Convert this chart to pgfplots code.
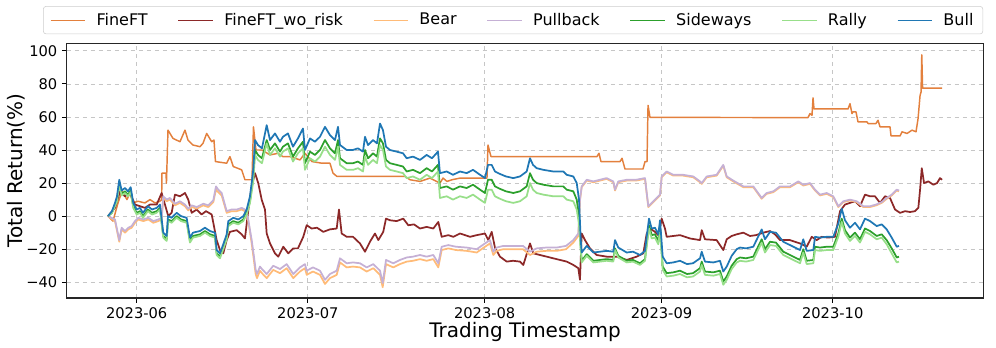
\documentclass[border=0pt]{standalone}
\usepackage{fontspec}
\setmainfont{DejaVu Sans}
\usepackage{pgfplots}
\pgfplotsset{compat=1.18}

\definecolor{cfineft}{HTML}{E3803D}
\definecolor{cworisk}{HTML}{8C2828}
\definecolor{cbear}{HTML}{FFBB78}
\definecolor{cpull}{HTML}{C5B0D5}
\definecolor{cside}{HTML}{2CA02C}
\definecolor{crally}{HTML}{98DF8A}
\definecolor{cbull}{HTML}{1F77B4}

\begin{document}
\begin{tikzpicture}
\useasboundingbox (-50pt,-37.5pt) rectangle (697pt,223.5pt);
\begin{axis}[
  scale only axis,
  width=687.5pt, height=191pt,
  xmin=-12.27, xmax=148.4,
  ymin=-49.5, ymax=104.5,
  xtick={0,30,61,92,122},
  xticklabels={2023-06,2023-07,2023-08,2023-09,2023-10},
  ytick={-40,-20,0,20,40,60,80,100},
  yticklabels={−40,−20,0,20,40,60,80,100},
  ticklabel style={font=\fontsize{11}{13}\selectfont},
  tick align=outside, tick pos=left,
  major tick length=3.5pt,
  every tick/.style={black, line width=0.6pt},
  axis line style={line width=0.8pt, black!85},
  grid=major,
  major grid style={dashed, gray!45, line width=0.5pt},
  xlabel={Trading Timestamp},
  ylabel={Total Return(\%)},
  xlabel style={font=\fontsize{15}{18}\selectfont, at={(rel axis cs:0.5,0)}, anchor=north, yshift=-18pt, inner sep=0pt},
  ylabel style={font=\fontsize{15}{18}\selectfont, at={(rel axis cs:0,0.5)}, anchor=south, yshift=31pt, inner sep=0pt},
  legend columns=7,
  legend style={at={(0.487,1.146)}, anchor=north, draw=black!20, rounded corners=2pt,
    font=\fontsize{12}{14}\selectfont, inner xsep=5pt, inner ysep=3pt,
    /tikz/every even column/.append style={column sep=20.5pt}},
  legend image code/.code={\draw[#1, line width=0.9pt] (0pt,0pt) -- (26pt,0pt);},
  every axis plot/.append style={line width=1.3pt, line join=round},
]
% FineFT
\addplot[cfineft, line width=1.1pt] coordinates {
(-5.03,0) (-4.15,-3) (-3.27,8) (-2.57,15) (-1.70,10) (-1.17,14) (-0.65,8) (0.23,9)
(1.45,8) (2.33,10) (3.21,8) (4.08,9) (4.38,10) (4.43,26) (5.14,26) (5.22,20) (5.49,52)
(6.36,47) (7.59,45) (8.47,52) (8.99,46) (9.87,43) (11.10,42) (11.62,44) (12.27,50)
(13.15,45) (13.55,46) (13.81,33) (15.78,32) (16.35,36) (16.93,30) (18.40,28) (18.98,22)
(20.21,22) (20.47,54) (20.91,40) (21.96,40) (23.37,37) (24.77,38) (25.64,36) (26.87,36)
(28.63,34) (29.50,38) (30.73,33) (32.48,32) (33.88,32) (34.41,26) (35.11,24) (39.14,24)
(42.65,24) (47.03,24) (47.91,22) (49.66,21) (51.41,23) (53.16,20) (53.70,23) (54.39,21)
(55.27,22) (56.67,23) (61.40,23) (61.58,43) (62.10,36) (80.68,36) (81.03,38) (81.38,33)
(84.72,33) (85.07,35) (85.59,28.5) (88.75,28.5) (89.10,33) (89.45,33) (89.63,67)
(89.97,59.7) (117.67,59.6) (118.02,62) (118.37,61) (118.55,71.5) (118.72,64.8)
(124.68,64.8) (125.03,68) (125.38,62) (125.56,63) (126.08,63) (126.43,57) (128.01,57)
(128.19,56) (129.59,56) (129.94,58) (130.29,54) (132.04,54) (132.22,48.5) (133.80,48.5)
(134.15,51) (135.03,50) (135.90,52) (136.60,51) (136.96,59) (137.31,73) (137.48,75)
(137.61,97.5) (137.75,77.4) (141.17,77.4)
};
\addlegendentry{\hspace{6pt}FineFT}
% FineFT_wo_risk
\addplot[cworisk] coordinates {
(-5.03,0) (-3.80,5) (-2.92,15) (-2.05,12) (-1.17,14) (-0.30,7) (1.45,5) (2.33,7) (3.51,7)
(4.38,14) (4.96,7) (5.54,0) (6.13,2) (6.71,13) (7.59,12) (8.47,14) (9.04,10) (9.64,2)
(10.52,4) (11.39,1) (12.15,3) (13.15,1) (14.02,-14.5) (14.60,-20.5) (15.18,-22.5)
(15.78,-14.5) (16.35,-9.5) (17.53,-8.5) (18.40,-11) (18.98,-13.5) (19.56,3.5) (20.16,18)
(20.74,26) (21.31,20) (21.91,10) (22.49,4) (22.79,-10.5) (23.37,-16.5) (24.24,-22.5)
(24.82,-24.5) (25.70,-18.5) (26.57,-22.5) (27.45,-19.5) (28.27,-19.5) (29.20,-12.5)
(29.80,-5.5) (30.67,-7.5) (31.60,-7) (32.71,-9.5) (33.88,-8) (35.06,-7.5) (35.46,4)
(35.93,-10.5) (36.81,-12.5) (37.92,-12.5) (39.14,-16.5) (40.02,-21.5) (40.89,-15.5)
(41.77,-10.5) (42.35,-14.5) (43.22,-9.5) (43.70,-1.5) (44.40,-2.5) (45.57,-3) (46.73,-1.5)
(47.61,-5.5) (48.61,-5) (49.66,-7.5) (50.83,-6.5) (51.99,-7.5) (52.87,-3.5) (53.46,-12.5)
(54.62,-11.5) (55.50,-12.5) (56.67,-10.5) (58.43,-12.5) (59.60,-11.5) (61.05,-10.5)
(61.63,-14.5) (62.23,-9.5) (62.80,-19) (63.68,-24.5) (64.86,-27.5) (65.96,-27) (67.19,-27.5)
(67.77,-29.5) (68.94,-16.5) (69.52,-22.5) (70.69,-23.5) (71.87,-24.5) (73.02,-25.5)
(74.20,-26.5) (75.37,-27.5) (76.53,-29.5) (77.41,-31.5) (77.70,-38.5) (78.00,-10.5)
(78.58,-14.5) (79.46,-19.5) (80.63,-23.5) (82.38,-24.5) (84.14,-24.5) (85.89,-26.5)
(87.64,-24.5) (88.80,-22.5) (89.40,-10.5) (89.97,-7.5) (90.85,-9.5) (91.43,-11.5)
(92.02,-1.5) (92.60,-7.5) (92.90,-12.5) (95.23,-11.5) (96.98,-13.5) (98.74,-14.5)
(99.04,-8.5) (99.61,-14) (101.66,-14.5) (102.82,-20.5) (103.42,-14) (104.29,-12)
(105.17,-11) (106.33,-10) (107.50,-12) (108.55,-11.5) (109.84,-10) (111.01,-9) (111.89,-11)
(112.76,-14.5) (114.51,-14.5) (116.27,-16.5) (117.44,-18.5) (118.32,-12.5) (119.19,-14.5)
(120.07,-12.5) (121.17,-13) (122.40,-12.5) (123.28,3) (124.15,7) (125.03,8) (125.91,9)
(126.78,6) (127.66,13) (128.54,12) (129.41,12) (130.29,8) (131.17,12) (132.04,11)
(132.92,4) (133.80,2) (134.68,3) (135.55,2.5) (136.43,3) (137.01,5) (137.31,16)
(137.61,29) (138.01,20) (138.76,21) (139.64,19) (140.29,20) (140.81,23) (141.17,22)
};
\addlegendentry{\hspace{6pt}FineFT\_wo\_risk}
% Bear
\addplot[cbear] coordinates {
(-5.03,0) (-3.80,-3) (-3.05,-15.5) (-2.63,-8) (-2.05,-10) (-1.47,-8) (-0.88,-7) (-0.30,-4)
(0.28,-2) (1.16,-3) (2.03,-2) (2.91,-4) (3.79,-3) (4.38,-2) (4.66,11) (5.26,9) (5.84,10)
(6.71,6.5) (7.59,8) (8.47,6) (9.04,3.5) (9.64,5.5) (10.52,4.5) (11.67,6.5) (12.55,5.5)
(13.43,8.5) (13.90,16) (14.30,14.5) (14.90,12.5) (15.78,2) (16.65,3) (17.53,3) (18.40,4)
(18.98,3) (19.56,-3) (20.16,-16.5) (20.56,-27) (20.86,-35) (21.09,-37.5) (21.61,-33)
(21.96,-34.5) (22.79,-37.5) (23.94,-32.5) (25.12,-34.5) (26.29,-31.5) (27.45,-37.5)
(28.62,-33.5) (29.50,-31.5) (29.80,-35.5) (30.90,-33.5) (32.13,-35.5) (33.01,-41)
(33.88,-37.5) (35.06,-35.5) (35.64,-28) (36.81,-31) (37.92,-30.5) (39.14,-31) (40.32,-33.5)
(41.47,-31.5) (42.65,-35.5) (43.12,-43) (43.70,-29) (44.98,-31) (46.15,-29) (47.33,-27.5)
(48.43,-27) (49.66,-26) (50.83,-27) (51.99,-26) (52.87,-31) (53.46,-20.5) (54.62,-19.5)
(55.97,-20.5) (57.84,-21) (59.60,-22) (61.05,-18.5) (61.93,-16.5) (62.51,-23.5) (63.10,-21)
(64.26,-20) (66.01,-20) (67.71,-20) (68.94,-23.5) (70.11,-21.5) (71.74,-21) (73.62,-21)
(75.25,-20) (76.53,-16) (77.41,-12) (77.70,9.5) (78.00,17.5) (78.88,21.5) (80.04,20.5)
(81.21,21.5) (82.38,22.5) (83.54,20.5) (83.84,15.5) (84.42,20.5) (85.89,21.5) (87.52,21.5)
(89.10,22.5) (89.40,13.5) (89.68,5.5) (90.27,7.5) (91.15,10.5) (91.73,12.5) (92.02,23.5)
(92.90,26.5) (94.06,24.5) (95.76,24.5) (97.56,23.5) (98.74,20.5) (99.04,19.5) (99.91,23.5)
(101.66,24.5) (102.82,30.5) (103.42,23.5) (104.57,21) (106.33,17.5) (108.08,17.5)
(109.55,10.5) (110.43,13.5) (111.59,14.5) (112.76,17.5) (114.51,17.5) (115.97,20.5)
(116.84,18.5) (118.02,19.5) (118.90,15.5) (119.77,12.5) (120.95,13.5) (122.10,11.5)
(122.98,5.5) (123.86,8.5) (125.03,9.5) (126.20,8.5) (127.36,5.5) (128.54,5.5) (129.59,6.5)
(130.59,8) (131.46,10.5) (132.34,12.5) (133.22,15.5) (133.62,15)
};
\addlegendentry{\hspace{6pt}Bear}
% Pullback
\addplot[cpull] coordinates {
(-5.03,0) (-3.80,-2) (-3.05,-14.5) (-2.63,-7) (-2.05,-9) (-1.47,-7) (-0.88,-6) (-0.30,-3)
(0.28,-1) (1.16,-2) (2.03,-1) (2.91,-3) (3.79,-2) (4.38,-1) (4.66,12) (5.26,10) (5.84,11)
(6.71,7.5) (7.59,9) (8.47,7) (9.04,4.5) (9.64,6.5) (10.52,5.5) (11.67,7.5) (12.55,6.5)
(13.43,9.5) (13.90,18) (14.30,16) (14.90,14) (15.78,3) (16.65,4) (17.53,4) (18.40,5)
(18.98,4) (19.56,-2) (20.16,-14.5) (20.56,-24.5) (20.86,-32.5) (21.09,-35) (21.61,-30.5)
(21.96,-32) (22.79,-35) (23.94,-30) (25.12,-32) (26.29,-29) (27.45,-35) (28.62,-31)
(29.50,-29) (29.80,-33) (30.90,-31) (32.13,-33) (33.01,-38.5) (33.88,-35) (35.06,-33)
(35.64,-25.5) (36.81,-28.5) (37.92,-28) (39.14,-28.5) (40.32,-31) (41.47,-29) (42.65,-33)
(43.12,-40.5) (43.70,-26.5) (44.98,-28.5) (46.15,-26.5) (47.33,-25) (48.43,-24.5)
(49.66,-23.5) (50.83,-24.5) (51.99,-23.5) (52.87,-28.5) (53.46,-18.5) (54.62,-17.5)
(55.97,-18.5) (57.84,-19) (59.60,-20) (61.05,-16.5) (61.93,-14.5) (62.51,-21.5) (63.10,-19)
(64.26,-18) (66.01,-18) (67.71,-18) (68.94,-21.5) (70.11,-19.5) (71.74,-19) (73.62,-19)
(75.25,-18) (76.53,-14.5) (77.41,-10.5) (77.70,10) (78.00,18) (78.88,22) (80.04,21)
(81.21,22) (82.38,23) (83.54,21) (83.84,16) (84.42,21) (85.89,22) (87.52,22) (89.10,23)
(89.40,14) (89.68,6) (90.27,8) (91.15,11) (91.73,13) (92.02,24) (92.90,27) (94.06,25)
(95.76,25) (97.56,24) (98.74,21) (99.04,20) (99.91,24) (101.66,25) (102.82,31) (103.42,24)
(104.57,21.5) (106.33,18) (108.08,18) (109.55,11) (110.43,14) (111.59,15) (112.76,18)
(114.51,18) (115.97,21) (116.84,19) (118.02,20) (118.90,16) (119.77,13) (120.95,14)
(122.10,12) (122.98,6) (123.86,9) (125.03,10) (126.20,9) (127.36,6) (128.54,6) (129.59,7)
(130.59,8.5) (131.46,11) (132.34,13) (133.22,16) (133.62,15.5)
};
\addlegendentry{\hspace{6pt}Pullback}
% Sideways
\addplot[cside] coordinates {
(-5.03,0) (-4.33,2) (-3.80,7) (-3.45,10) (-3.05,20) (-2.63,13.5) (-2.05,15) (-1.52,13)
(-1.05,15.5) (-0.60,6) (0,2) (0.58,3) (1.10,0) (1.98,4) (2.68,2) (3.51,3) (4.08,5)
(4.66,-12) (5.26,-14) (5.49,-2) (6.13,-3) (7.01,0) (7.77,-2) (8.76,-3) (9.34,-15)
(9.87,-12) (11.10,-11) (11.97,-9) (12.85,-11) (13.73,-12) (14.02,-22.5) (14.60,-24.5)
(15.18,-19) (15.78,-13) (16.06,-5) (16.93,-3) (17.81,-4) (18.69,-2) (19.28,2) (19.86,9)
(20.44,24) (20.74,40) (21.26,37) (21.96,35) (22.79,46) (23.37,40) (24.24,44) (25.12,39)
(25.64,42) (26.52,44) (27.40,36) (28.27,41) (29.15,45) (29.50,32) (30.38,39) (31.25,37)
(32.13,40) (33.01,46) (33.88,41) (34.76,38) (35.29,46) (35.64,35) (36.81,32) (37.92,32)
(38.79,33) (39.67,31) (40.02,40) (40.55,35) (41.42,38) (42.12,36) (42.65,47) (43.17,44)
(43.70,34) (44.40,32) (45.57,31) (46.68,30) (47.33,27) (48.43,28) (49.66,26) (50.83,29)
(51.76,27) (52.81,31) (53.16,17) (54.34,18) (55.44,16) (56.67,18) (57.84,17) (58.95,19)
(60.18,16) (61.05,14) (61.58,22) (62.23,22) (62.80,18) (63.68,16.5) (64.73,15) (66.01,14)
(67.19,15) (68.36,18) (68.94,26) (69.47,22) (70.11,20) (71.27,19) (73.02,18) (74.78,18)
(75.37,16) (76.53,15) (77.13,10) (77.53,0) (77.83,-19) (78.00,-27) (78.88,-23) (80.04,-27)
(81.21,-26.5) (82.38,-26) (83.54,-26.5) (83.84,-19.5) (84.42,-24) (85.89,-27) (86.99,-26.5)
(88.22,-28.5) (89.10,-26) (89.40,-16.3) (89.80,-5.5) (90.27,-11.5) (90.85,-11) (91.43,-15)
(91.73,-6.5) (92.20,-30.5) (92.90,-34.5) (94.05,-34) (95.23,-33) (96.46,-35) (97.51,-34.5)
(98.74,-31.5) (99.04,-27.5) (99.61,-33.5) (101.07,-34) (102.24,-33) (102.82,-39.5)
(103.42,-36.5) (104.29,-30) (105.17,-26) (105.75,-25) (106.80,-25.5) (108.08,-24.5)
(109.55,-14) (110.13,-20) (111.01,-15.5) (112.06,-16) (113.34,-21.5) (115.09,-24.5)
(116.27,-26.5) (116.84,-20) (117.44,-27) (118.60,-26.5) (118.90,-18.5) (119.77,-19)
(120.95,-18.5) (122.10,-18.5) (122.98,-10.5) (123.58,-1.5) (124.15,-8.5) (125.03,-13)
(125.91,-10) (126.78,-14) (127.66,-7.5) (128.54,-9) (129.71,-12) (130.59,-11) (131.46,-14.5)
(132.34,-19.5) (133.22,-25) (133.62,-24.5)
};
\addlegendentry{\hspace{6pt}Sideways}
% Rally
\addplot[crally] coordinates {
(-5.03,0) (-4.33,2) (-3.80,6) (-3.45,9) (-3.05,19) (-2.63,12.5) (-2.05,14) (-1.52,12)
(-1.05,14.5) (-0.60,5) (0,1) (0.58,2) (1.10,-1) (1.98,3) (2.68,1) (3.51,2) (4.08,4)
(4.66,-13) (5.26,-15) (5.49,-3) (6.13,-4) (7.01,-1) (7.77,-3) (8.76,-4) (9.34,-16)
(9.87,-13) (11.10,-12) (11.97,-10) (12.85,-12) (13.73,-13) (14.02,-23.5) (14.60,-25.5)
(15.18,-20) (15.78,-14) (16.06,-6) (16.93,-4) (17.81,-5) (18.69,-3) (19.28,1) (19.86,8)
(20.44,21) (20.74,37) (21.26,34) (21.96,32) (22.79,44) (23.37,37) (24.24,41) (25.12,36)
(25.64,39) (26.52,41) (27.40,33) (28.27,38) (29.15,41) (29.50,28) (30.38,35) (31.25,33)
(32.13,36) (33.01,42) (33.88,37) (34.76,34) (35.29,42) (35.64,31) (36.81,28) (37.92,28)
(38.79,29) (39.67,27) (40.02,36) (40.55,31) (41.42,34) (42.12,32) (42.65,43) (43.17,40)
(43.70,30) (44.40,28) (45.57,27) (46.68,26) (47.33,23) (48.43,24) (49.66,22) (50.83,25)
(51.76,23) (52.81,27) (53.16,11) (54.34,12) (55.44,10) (56.67,12) (57.84,11) (58.95,13)
(60.18,10) (61.05,8) (61.58,16) (62.23,16) (62.80,12) (63.68,10.5) (64.73,9) (66.01,8)
(67.19,9) (68.36,12) (68.94,20) (69.47,16) (70.11,14) (71.27,13) (73.02,12) (74.78,12)
(75.37,10) (76.53,9) (77.13,4) (77.53,-5) (77.83,-20) (78.00,-28) (78.88,-24) (80.04,-28)
(81.21,-27.5) (82.38,-27) (83.54,-27.5) (83.84,-20.5) (84.42,-25) (85.89,-28) (86.99,-27.5)
(88.22,-29.5) (89.10,-27) (89.40,-18.3) (89.80,-7.5) (90.27,-13.5) (90.85,-13) (91.43,-17)
(91.73,-8.5) (92.20,-32.5) (92.90,-36.5) (94.05,-36) (95.23,-35) (96.46,-37) (97.51,-36.5)
(98.74,-33.5) (99.04,-29.5) (99.61,-35.5) (101.07,-36) (102.24,-35) (102.82,-41.5)
(103.42,-38.5) (104.29,-32) (105.17,-28) (105.75,-27) (106.80,-27.5) (108.08,-26.5)
(109.55,-16) (110.13,-22) (111.01,-17.5) (112.06,-18) (113.34,-23.5) (115.09,-26.5)
(116.27,-28.5) (116.84,-22) (117.44,-29) (118.60,-28.5) (118.90,-20.5) (119.77,-21)
(120.95,-20.5) (122.10,-20.5) (122.98,-12.5) (123.58,-3.5) (124.15,-10.5) (125.03,-15)
(125.91,-12) (126.78,-16) (127.66,-9.5) (128.54,-11) (129.71,-14) (130.59,-13) (131.46,-17)
(132.34,-22.5) (133.22,-28) (133.62,-27.5)
};
\addlegendentry{\hspace{6pt}Rally}
% Bull
\addplot[cbull] coordinates {
(-5.03,0) (-4.33,3) (-3.80,8) (-3.45,12) (-3.05,22) (-2.63,15.5) (-2.05,17) (-1.52,15)
(-1.05,17.5) (-0.60,8) (0,4) (0.58,5) (1.10,2) (1.98,6) (2.68,4) (3.51,5) (4.08,7)
(4.66,-10) (5.26,-12) (5.49,0) (6.13,-1) (7.01,2) (7.77,0) (8.76,-1) (9.34,-13) (9.87,-10)
(11.10,-9) (11.97,-7) (12.85,-9) (13.73,-10) (14.02,-20.5) (14.60,-22.5) (15.18,-17)
(15.78,-11) (16.06,-3) (16.93,-1) (17.81,-2) (18.69,0) (19.28,4) (19.86,12) (20.44,28)
(20.74,46) (21.26,43) (21.96,41) (22.79,55) (23.37,46) (24.24,50) (25.12,45) (25.64,48)
(26.52,50) (27.40,42) (28.27,47) (29.15,53) (29.50,40) (30.38,47) (31.25,45) (32.13,48)
(33.01,54) (33.88,49) (34.76,46) (35.29,54) (35.64,43) (36.81,40) (37.92,40) (38.79,41)
(39.67,39) (40.02,48) (40.55,43) (41.42,46) (42.12,44) (42.65,56) (43.17,52) (43.70,42)
(44.40,40) (45.57,39) (46.68,38) (47.33,35) (48.43,36) (49.66,34) (50.83,37) (51.76,35)
(52.81,39) (53.16,26) (54.34,27) (55.44,25) (56.67,27) (57.84,26) (58.95,28) (60.18,25)
(61.05,23) (61.58,31) (62.23,31) (62.80,27) (63.68,25.5) (64.73,24) (66.01,23) (67.19,24)
(68.36,27) (68.94,35) (69.47,31) (70.11,29) (71.27,28) (73.02,27) (74.78,27) (75.37,25)
(76.53,24) (77.13,20) (77.53,10) (77.83,-14) (78.00,-22) (78.88,-18) (80.04,-22)
(81.21,-21.5) (82.38,-21) (83.54,-21.5) (83.84,-14.5) (84.42,-19) (85.89,-22) (86.99,-21.5)
(88.22,-23.5) (89.10,-21) (89.40,-12.3) (89.80,-1.5) (90.27,-7.5) (90.85,-7) (91.43,-11)
(91.73,-2.5) (92.20,-24.5) (92.90,-28.5) (94.05,-28) (95.23,-27) (96.46,-29) (97.51,-28.5)
(98.74,-25.5) (99.04,-21.5) (99.61,-27.5) (101.07,-28) (102.24,-27) (102.82,-33.5)
(103.42,-30.5) (104.29,-24) (105.17,-20) (105.75,-19) (106.80,-19.5) (108.08,-18.5)
(109.55,-8) (110.13,-14) (111.01,-9.5) (112.06,-10) (113.34,-15.5) (115.09,-18.5)
(116.27,-20.5) (116.84,-14) (117.44,-21) (118.60,-20.5) (118.90,-12.5) (119.77,-13)
(120.95,-12.5) (122.10,-12.5) (122.98,-4.5) (123.58,4.5) (124.15,-2.5) (125.03,-7)
(125.91,-4) (126.78,-8) (127.66,-1.5) (128.54,-3) (129.71,-6) (130.59,-5) (131.46,-8)
(132.34,-13) (133.22,-18.5) (133.62,-18)
};
\addlegendentry{\hspace{6pt}Bull}
\end{axis}
\end{tikzpicture}
\end{document}
